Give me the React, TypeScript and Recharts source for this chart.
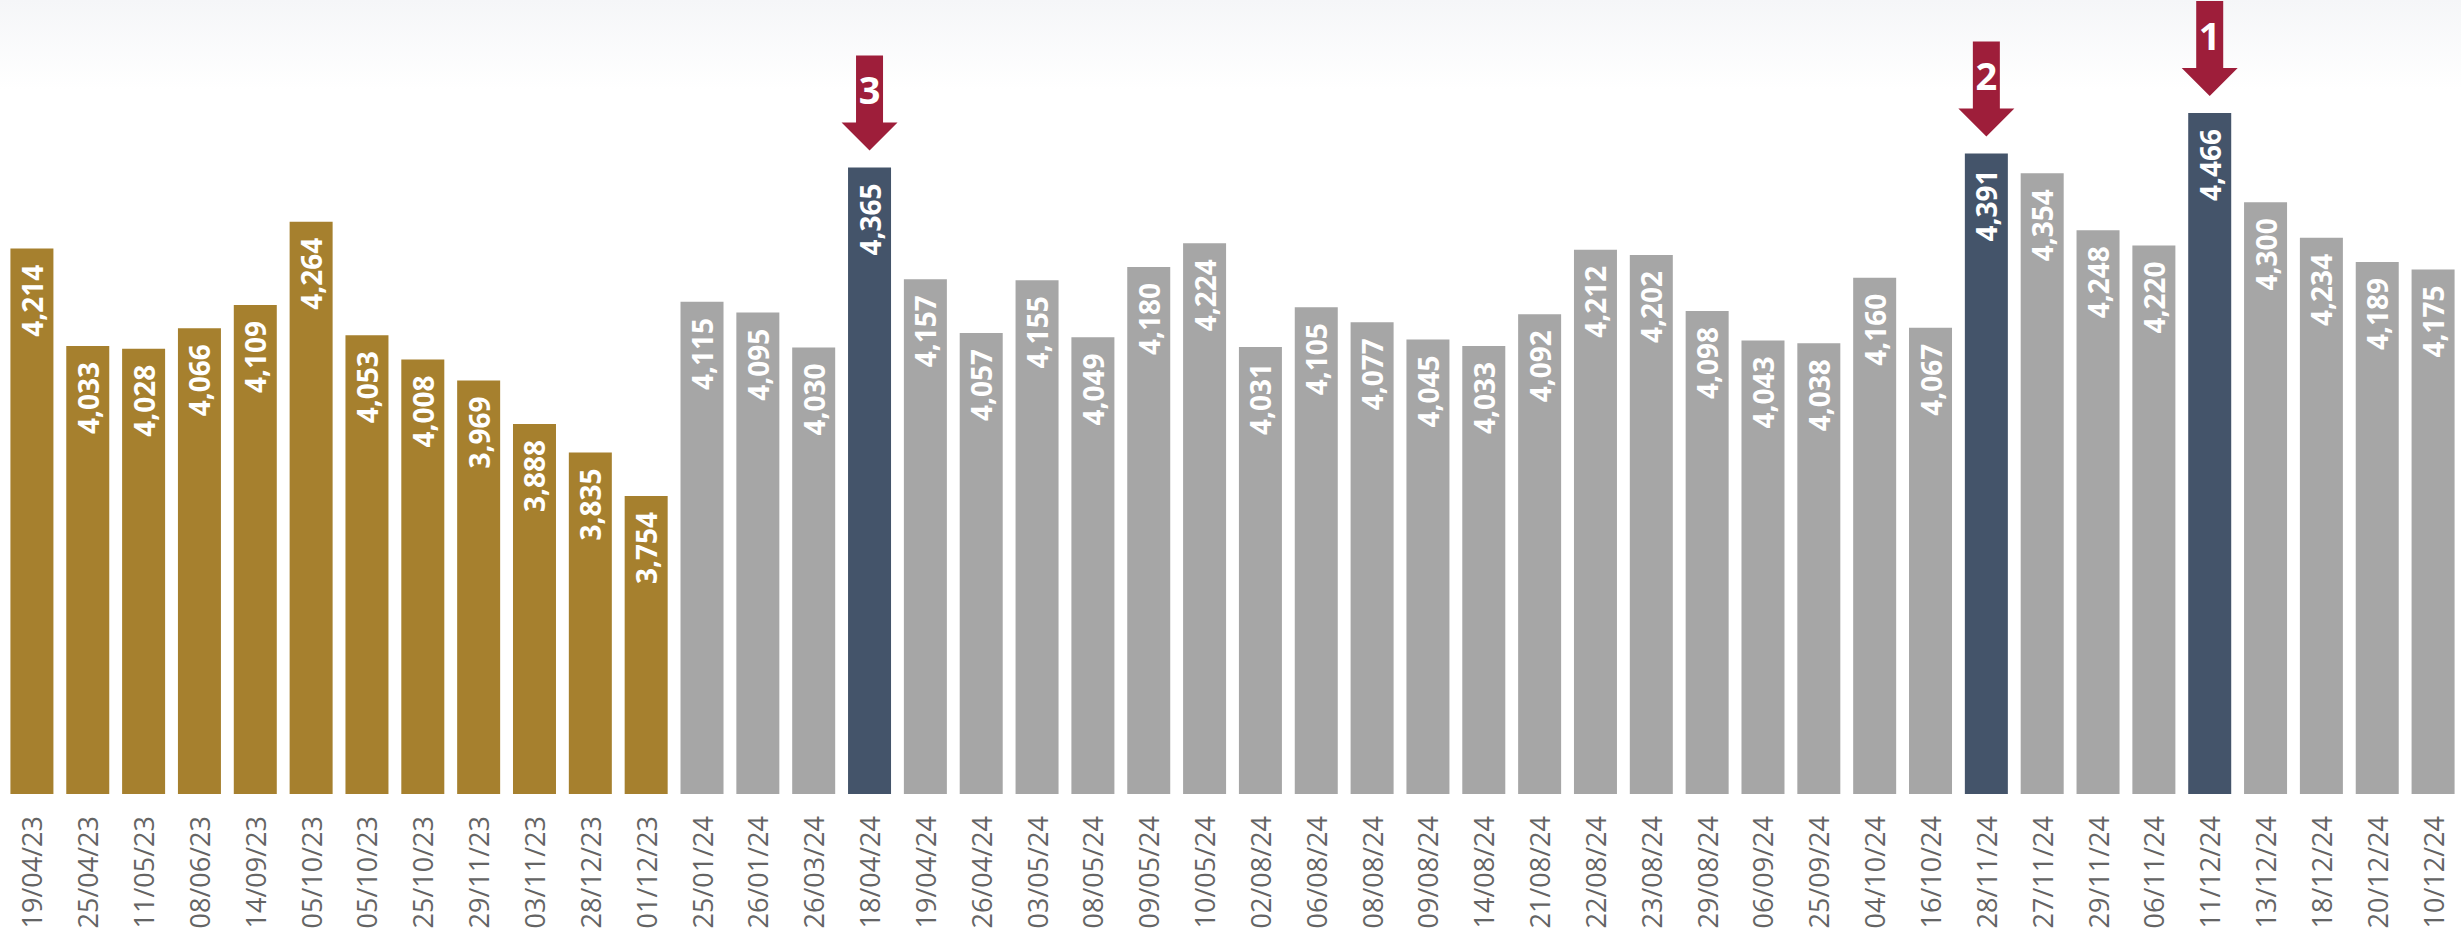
import { BarChart, Bar, XAxis, YAxis, Cell, LabelList } from "recharts";

const dates = [
  "19/04/23", "25/04/23", "11/05/23", "08/06/23", "14/09/23", "05/10/23",
  "05/10/23", "25/10/23", "29/11/23", "03/11/23", "28/12/23", "01/12/23",
  "25/01/24", "26/01/24", "26/03/24", "18/04/24", "19/04/24", "26/04/24",
  "03/05/24", "08/05/24", "09/05/24", "10/05/24", "02/08/24", "06/08/24",
  "08/08/24", "09/08/24", "14/08/24", "21/08/24", "22/08/24", "23/08/24",
  "29/08/24", "06/09/24", "25/09/24", "04/10/24", "16/10/24", "28/11/24",
  "27/11/24", "29/11/24", "06/11/24", "11/12/24", "13/12/24", "18/12/24",
  "20/12/24", "10/12/24",
];

const values = [
  4214, 4033, 4028, 4066, 4109, 4264, 4053, 4008, 3969, 3888, 3835, 3754,
  4115, 4095, 4030, 4365, 4157, 4057, 4155, 4049, 4180, 4224, 4031, 4105,
  4077, 4045, 4033, 4092, 4212, 4202, 4098, 4043, 4038, 4160, 4067, 4391,
  4354, 4248, 4220, 4466, 4300, 4234, 4189, 4175,
];

const GOLD = "#a6802e";
const GRAY = "#a6a6a6";
const NAVY = "#44546a";
const RED = "#9e1e3a";

// top 3 get a numbered arrow
const top3 = [...values].sort((a, b) => b - a).slice(0, 3);

const data = dates.map((date, i) => {
  const r = top3.indexOf(values[i]);
  return { date, value: values[i], rank: r >= 0 ? r + 1 : null };
});

const colorFor = (d: { date: string; rank: number | null }) => {
  if (d.rank) return NAVY;
  if (d.date.endsWith("/23")) return GOLD;
  return GRAY;
};

const ValueLabel = (props: any) => {
  const { x, y, width, value } = props;
  const cx = x + width / 2;
  return (
    <g transform={`translate(${cx},${y + 16})`}>
      <text
        transform="rotate(-90)"
        textAnchor="end"
        dominantBaseline="central"
        fill="#ffffff"
        fontFamily="'Open Sans', sans-serif"
        fontWeight={700}
        fontSize={28}
      >
        {value.toLocaleString("en-US")}
      </text>
    </g>
  );
};

const RankArrow = (props: any) => {
  const { x, y, width, value } = props;
  if (!value) return null;
  const cx = x + width / 2;
  const tip = y - 17;
  const path = [
    `M${cx - 13.5},${tip - 95}`,
    `L${cx + 13.5},${tip - 95}`,
    `L${cx + 13.5},${tip - 28}`,
    `L${cx + 28},${tip - 28}`,
    `L${cx},${tip}`,
    `L${cx - 28},${tip - 28}`,
    `L${cx - 13.5},${tip - 28}`,
    "Z",
  ].join(" ");
  return (
    <g>
      <path d={path} fill={RED} />
      <text
        x={cx}
        y={tip - 61}
        textAnchor="middle"
        dominantBaseline="central"
        fill="#ffffff"
        fontFamily="'Open Sans', sans-serif"
        fontWeight={700}
        fontSize={38}
      >
        {value}
      </text>
    </g>
  );
};

const DateTick = (props: any) => {
  const { x, y, payload } = props;
  return (
    <g transform={`translate(${x},${y + 22})`}>
      <text
        transform="rotate(-90)"
        textAnchor="end"
        dominantBaseline="central"
        fill="#646464"
        fontFamily="'Open Sans', sans-serif"
        fontSize={27}
      >
        {payload.value}
      </text>
    </g>
  );
};

export default function App() {
  return (
    <div
      style={{
        position: "absolute",
        left: 0,
        top: 0,
        width: 2461,
        height: 934,
        background: "linear-gradient(to bottom, #f5f6f8 0px, #ffffff 90px)",
      }}
    >
      <BarChart
        width={2461}
        height={934}
        data={data}
        margin={{ top: 41, right: 0, left: 4, bottom: 0 }}
        barCategoryGap="11.5%"
      >
        <XAxis
          dataKey="date"
          interval={0}
          height={140}
          axisLine={false}
          tickLine={false}
          tickSize={0}
          tickMargin={0}
          tick={<DateTick />}
        />
        <YAxis hide domain={[3200, 4600]} allowDataOverflow />
        <Bar dataKey="value" isAnimationActive={false}>
          {data.map((d) => (
            <Cell key={d.date + d.value} fill={colorFor(d)} />
          ))}
          <LabelList dataKey="value" content={<ValueLabel />} />
          <LabelList dataKey="rank" content={<RankArrow />} />
        </Bar>
      </BarChart>
    </div>
  );
}
